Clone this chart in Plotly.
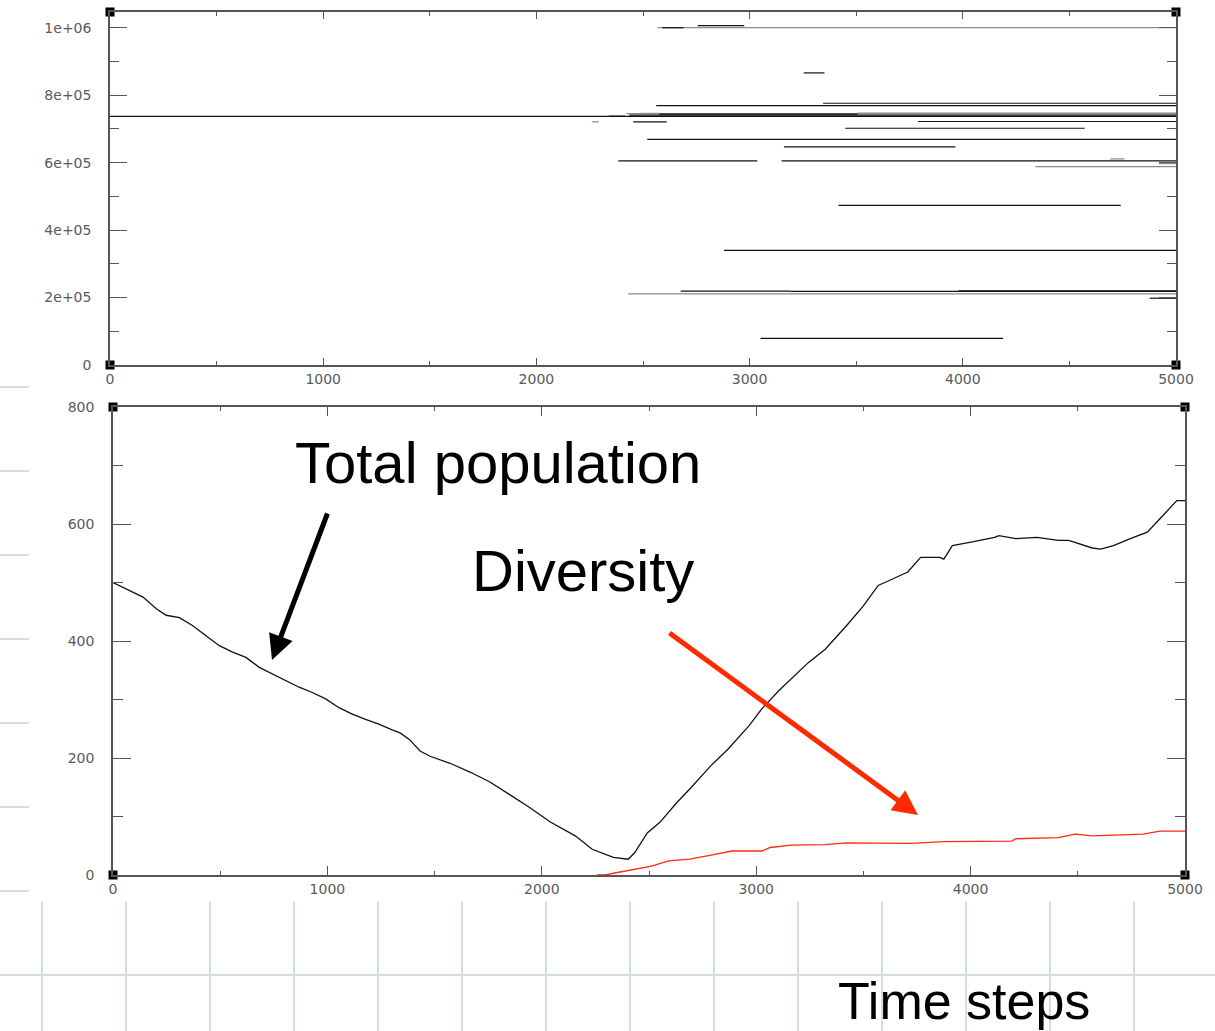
import plotly.graph_objects as go

W, H = 1215, 1031

# ---------------- data: top panel (genotype lineages, horizontal segments) ----------------
seg_start = [0, 2568, 2590, 2757, 3254, 3345, 2562, 2422, 2488, 2577, 3506, 2435, 2340,
             2260, 2454, 3790, 3449, 2520, 3161, 2384, 3150, 4691, 4919, 4340,
             3417, 2880, 2677, 3193, 3980, 2431, 4877, 3051]
seg_end = [5000, 5000, 2690, 2975, 3351, 5000, 5000, 5000, 2577, 3506, 5000, 5000, 2416,
           2293, 2611, 5000, 4572, 5000, 3965, 3036, 5000, 4758, 5000, 5000,
           4741, 5000, 3193, 5000, 5000, 5000, 5000, 4189]
seg_value = [0.737e6, 1.000e6, 1.000e6, 1.006e6, 0.866e6, 0.776e6, 0.769e6, 0.745e6, 0.746e6,
             0.744e6, 0.747e6, 0.741e6, 0.739e6,
             0.721e6, 0.721e6, 0.722e6, 0.702e6, 0.669e6, 0.647e6, 0.605e6, 0.605e6,
             0.611e6, 0.597e6, 0.588e6,
             0.473e6, 0.340e6, 0.219e6, 0.218e6, 0.220e6, 0.211e6, 0.198e6, 0.079e6]
seg_shade = ["k", "g", "k", "k", "k", "k", "k", "g", "g", "k", "g", "k", "g",
             "g", "k", "k", "k", "k", "k", "k", "k", "g", "g", "g",
             "k", "k", "k", "k", "k", "g", "k", "k"]

# ---------------- data: bottom panel ----------------
pop_t = [0, 62, 140, 202, 248, 310, 372, 434, 496, 558, 620, 682, 744, 806, 868, 930, 992,
         1054, 1116, 1178, 1240, 1302, 1339, 1385, 1432, 1479, 1572, 1665, 1758, 1852, 1945,
         2038, 2156, 2235, 2334, 2403, 2433, 2492, 2551, 2630, 2690, 2789, 2868, 2966, 3026,
         3105, 3243, 3322, 3421, 3500, 3569, 3618, 3707, 3767, 3856, 3875, 3915, 4014, 4112,
         4132, 4211, 4310, 4409, 4458, 4508, 4567, 4607, 4666, 4745, 4824, 4883, 4962, 5000]
pop_v = [500, 489, 475, 455, 444, 440, 426, 409, 392, 381, 372, 355, 344, 332, 321, 312, 301,
         286, 275, 266, 258, 248, 243, 231, 212, 203, 191, 176, 159, 137, 115,
         91, 67, 44, 30, 27, 38, 72, 90, 124, 147, 187, 215, 255, 284,
         315, 363, 386, 426, 460, 495, 503, 518, 543, 543, 540, 563, 570, 577,
         580, 575, 577, 572, 572, 566, 559, 557, 563, 575, 586, 609, 640, 640]

div_t = [2257, 2295, 2334, 2433, 2512, 2591, 2690, 2789, 2887, 3026, 3065, 3164, 3322, 3421,
         3717, 3875, 4192, 4211, 4409, 4488, 4567, 4804, 4883, 5000]
div_v = [0, 0, 3, 10, 15, 24, 27, 34, 41, 41, 47, 51, 52, 55, 54, 57, 58, 62, 64, 70, 67, 70, 75, 75]

top_y_ticks = [0, 2e5, 4e5, 6e5, 8e5, 1e6]
top_y_labels = ["0", "2e+05", "4e+05", "6e+05", "8e+05", "1e+06"]
x_ticks = [0, 1000, 2000, 3000, 4000, 5000]
bot_y_ticks = [0, 200, 400, 600, 800]

TOP_YMAX = 1.0466e6
BOT_YMAX = 800

# ---------------- figure ----------------
fig = go.Figure()

shade_color = {"k": "#111111", "g": "#8a8a8a"}
for shade in ["g", "k"]:
    xs, ys = [], []
    for s, e, v, c in zip(seg_start, seg_end, seg_value, seg_shade):
        if c == shade:
            xs += [s, e, None]
            ys += [v, v, None]
    fig.add_trace(go.Scatter(x=xs, y=ys, mode="lines", xaxis="x", yaxis="y",
                             line=dict(color=shade_color[shade], width=1.2),
                             hoverinfo="skip", showlegend=False))

fig.add_trace(go.Scatter(x=pop_t, y=pop_v, mode="lines", xaxis="x2", yaxis="y2",
                         line=dict(color="#111111", width=1.3), showlegend=False,
                         name="Total population"))
fig.add_trace(go.Scatter(x=div_t, y=div_v, mode="lines", xaxis="x2", yaxis="y2",
                         line=dict(color="#ff2a10", width=1.3), showlegend=False,
                         name="Diversity"))

# corner squares of the plot frames
fig.add_trace(go.Scatter(x=[0, 5000, 0, 5000], y=[0, 0, TOP_YMAX, TOP_YMAX], mode="markers",
                         xaxis="x", yaxis="y", cliponaxis=False,
                         marker=dict(symbol="square", size=9, color="black"),
                         hoverinfo="skip", showlegend=False))
fig.add_trace(go.Scatter(x=[0, 5000, 0, 5000], y=[0, 0, BOT_YMAX, BOT_YMAX], mode="markers",
                         xaxis="x2", yaxis="y2", cliponaxis=False,
                         marker=dict(symbol="square", size=9, color="black"),
                         hoverinfo="skip", showlegend=False))


def px(x):
    return x / W


def py(y):
    return 1 - y / H


tickfont = dict(family="DejaVu Sans", size=14, color="#5a5a5a")
axis_common = dict(showline=True, linecolor="#555555", linewidth=1.5, mirror="allticks",
                   ticks="inside", tickcolor="#555555", tickwidth=1.3, showgrid=False,
                   zeroline=False, tickfont=tickfont, automargin=False)

fig.update_layout(
    template="none",
    width=W, height=H,
    margin=dict(l=0, r=0, t=0, b=0, pad=0),
    paper_bgcolor="white",
    plot_bgcolor="rgba(0,0,0,0)",
    showlegend=False,
    xaxis=dict(domain=[px(110), px(1176)], range=[0, 5000], tickvals=x_ticks, ticklen=7,
               minor=dict(dtick=500, ticklen=4, ticks="inside", tickcolor="#555555"),
               anchor="y", **axis_common),
    yaxis=dict(domain=[py(365), py(12)], range=[0, TOP_YMAX], tickvals=top_y_ticks,
               ticktext=top_y_labels, ticklen=17, ticklabelstandoff=14,
               minor=dict(dtick=1e5, ticklen=9, ticks="inside", tickcolor="#555555"),
               anchor="x", **axis_common),
    xaxis2=dict(domain=[px(113), px(1185)], range=[0, 5000], tickvals=x_ticks, ticklen=9,
                minor=dict(dtick=500, ticklen=4, ticks="inside", tickcolor="#555555"),
                anchor="y2", **axis_common),
    yaxis2=dict(domain=[py(875), py(407)], range=[0, BOT_YMAX], tickvals=bot_y_ticks,
                ticklen=18, ticklabelstandoff=14,
                minor=dict(dtick=100, ticklen=10, ticks="inside", tickcolor="#555555"),
                anchor="x2", **axis_common),
)

# ---------------- slide background grid + white picture areas ----------------
shapes = []
grid_col = "#d3dcde"
for gx in range(42, W, 84):
    shapes.append(dict(type="line", xref="paper", yref="paper", x0=px(gx), x1=px(gx),
                       y0=0, y1=1, line=dict(color=grid_col, width=2), layer="below"))
for gy in range(387, H, 84):
    shapes.append(dict(type="line", xref="paper", yref="paper", x0=0, x1=1,
                       y0=py(gy), y1=py(gy), line=dict(color=grid_col, width=2), layer="below"))
shapes.append(dict(type="rect", xref="paper", yref="paper", x0=0, x1=1, y0=py(386), y1=1,
                   fillcolor="white", line=dict(width=0), layer="below"))
shapes.append(dict(type="rect", xref="paper", yref="paper", x0=px(29), x1=1, y0=py(902),
                   y1=py(386), fillcolor="white", line=dict(width=0), layer="below"))
fig.update_layout(shapes=shapes)

# ---------------- text and arrows ----------------
big = dict(family="Liberation Sans", size=58, color="black")
fig.add_annotation(x=px(498), y=py(463), xref="paper", yref="paper", text="Total population",
                   showarrow=False, font=big, xanchor="center", yanchor="middle")
fig.add_annotation(x=px(583), y=py(570), xref="paper", yref="paper", text="Diversity",
                   showarrow=False, font=big, xanchor="center", yanchor="middle")
fig.add_annotation(x=px(964), y=py(1001), xref="paper", yref="paper", text="Time steps",
                   showarrow=False, font=dict(family="Liberation Sans", size=52, color="black"),
                   xanchor="center", yanchor="middle")

fig.add_annotation(x=px(272), y=py(660), xref="paper", yref="paper", text="",
                   showarrow=True, ax=56, ay=-148, axref="pixel", ayref="pixel",
                   arrowhead=2, arrowsize=1.0, arrowwidth=5, arrowcolor="black")
fig.add_annotation(x=px(918), y=py(815), xref="paper", yref="paper", text="",
                   showarrow=True, ax=-250, ay=-183, axref="pixel", ayref="pixel",
                   arrowhead=2, arrowsize=1.0, arrowwidth=5, arrowcolor="#ff2a00")

fig.write_html("out.html", config={"displayModeBar": False},
               post_script="document.body.style.margin='0';document.body.style.overflow='hidden';")
